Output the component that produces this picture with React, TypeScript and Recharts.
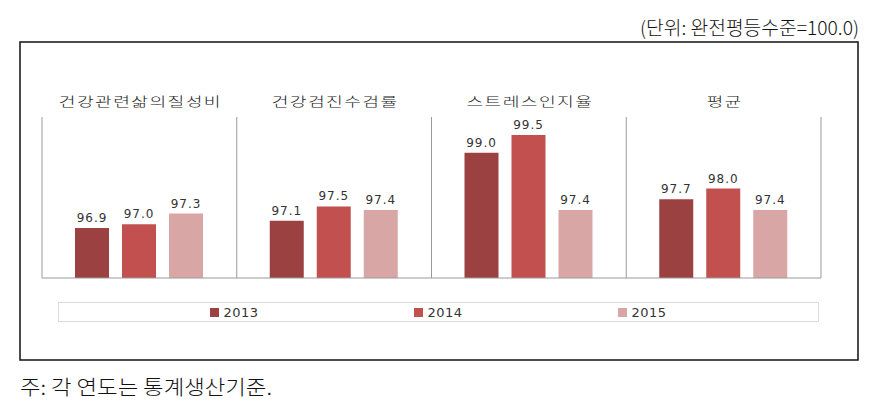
import React from "react";
import { Bar, BarChart, CartesianGrid, LabelList, ReferenceLine, XAxis, YAxis } from "recharts";

const CATEGORIES = ["건강관련삶의질성비", "건강검진수검률", "스트레스인지율", "평균"];
const YEARS = ["2013", "2014", "2015"];
const VALUES_2013 = [96.9, 97.1, 99.0, 97.7];
const VALUES_2014 = [97.0, 97.5, 99.5, 98.0];
const VALUES_2015 = [97.3, 97.4, 97.4, 97.4];
const COLORS = ["#9c4141", "#c2504e", "#d9a6a6"];

const Y_DOMAIN = [95.5, 100];
const TITLE = "(단위: 완전평등수준=100.0)";
const NOTE = "주: 각 연도는 통계생산기준.";

const SERIES = [VALUES_2013, VALUES_2014, VALUES_2015];

const data = CATEGORIES.map((name, i) => {
  const row: Record<string, string | number> = { name };
  YEARS.forEach((y, s) => {
    row[y] = SERIES[s][i];
  });
  return row;
});

const KOR = "'Noto Sans CJK KR', 'Noto Sans', sans-serif";
const LATIN = "'DejaVu Sans', Verdana, sans-serif";

// category names sit above the plot; the original is stretched sideways
function CategoryTick({ x, y, payload }: any) {
  return (
    <g transform={`translate(${x + 1},${y - 11}) scale(1.4,1)`}>
      <text x={0} y={0} textAnchor="middle" fontSize={13} fontWeight={300} fill="#222" fontFamily={KOR} letterSpacing={1}>
        {payload.value}
      </text>
    </g>
  );
}

export default function App() {
  return (
    <div style={{ position: "absolute", left: 0, top: 0, width: 884, height: 409, background: "#fff" }}>
      <svg width={884} height={409} style={{ position: "absolute", left: 0, top: 0 }}>
        <text x={859} y={35} textAnchor="end" fontSize={19} fontWeight={300} fill="#111" fontFamily={KOR} textLength={219} lengthAdjust="spacingAndGlyphs">
          {TITLE}
        </text>
        <rect x={20} y={42} width={838} height={318} fill="none" stroke="#111" strokeWidth={1.5} />
        <text x={20} y={395} fontSize={20} fontWeight={300} fill="#111" fontFamily={KOR} textLength={252} lengthAdjust="spacingAndGlyphs">
          {NOTE}
        </text>
      </svg>

      <div style={{ position: "absolute", left: 0, top: 0 }}>
        <BarChart
          width={884}
          height={409}
          data={data}
          margin={{ top: 87, right: 63, bottom: 131, left: 42 }}
          barSize={34}
          barGap={13}
        >
          <CartesianGrid
            horizontal={false}
            stroke="#9a9a9a"
            verticalCoordinatesGenerator={({ offset }: any) =>
              CATEGORIES.map((_, i) => offset.left + (i * offset.width) / CATEGORIES.length).concat(
                offset.left + offset.width
              )
            }
          />
          <XAxis
            dataKey="name"
            orientation="top"
            height={30}
            axisLine={false}
            tickLine={false}
            tickSize={0}
            tickMargin={0}
            interval={0}
            tick={<CategoryTick />}
          />
          <YAxis hide domain={Y_DOMAIN} allowDataOverflow />
          <ReferenceLine y={Y_DOMAIN[0]} stroke="#9a9a9a" />
          {YEARS.map((year, s) => (
            <Bar key={year} dataKey={year} fill={COLORS[s]} isAnimationActive={false}>
              <LabelList
                dataKey={year}
                position="top"
                offset={6}
                formatter={(v: any) => Number(v).toFixed(1)}
                style={{ fontSize: 12, fill: "#333", fontFamily: LATIN, letterSpacing: 1 }}
              />
            </Bar>
          ))}
        </BarChart>
      </div>

      <div
        style={{
          position: "absolute",
          left: 58,
          top: 302,
          width: 761,
          height: 20,
          boxSizing: "border-box",
          border: "1px solid #dadada",
          display: "flex",
          justifyContent: "center",
          alignItems: "center",
        }}
      >
        {YEARS.map((year, s) => (
          <div key={year} style={{ width: 204, display: "flex", justifyContent: "center", alignItems: "center" }}>
            <span style={{ width: 9, height: 9, background: COLORS[s], marginRight: 4 }} />
            <span style={{ fontFamily: LATIN, fontSize: 13, color: "#333", letterSpacing: 0.5 }}>{year}</span>
          </div>
        ))}
      </div>
    </div>
  );
}
